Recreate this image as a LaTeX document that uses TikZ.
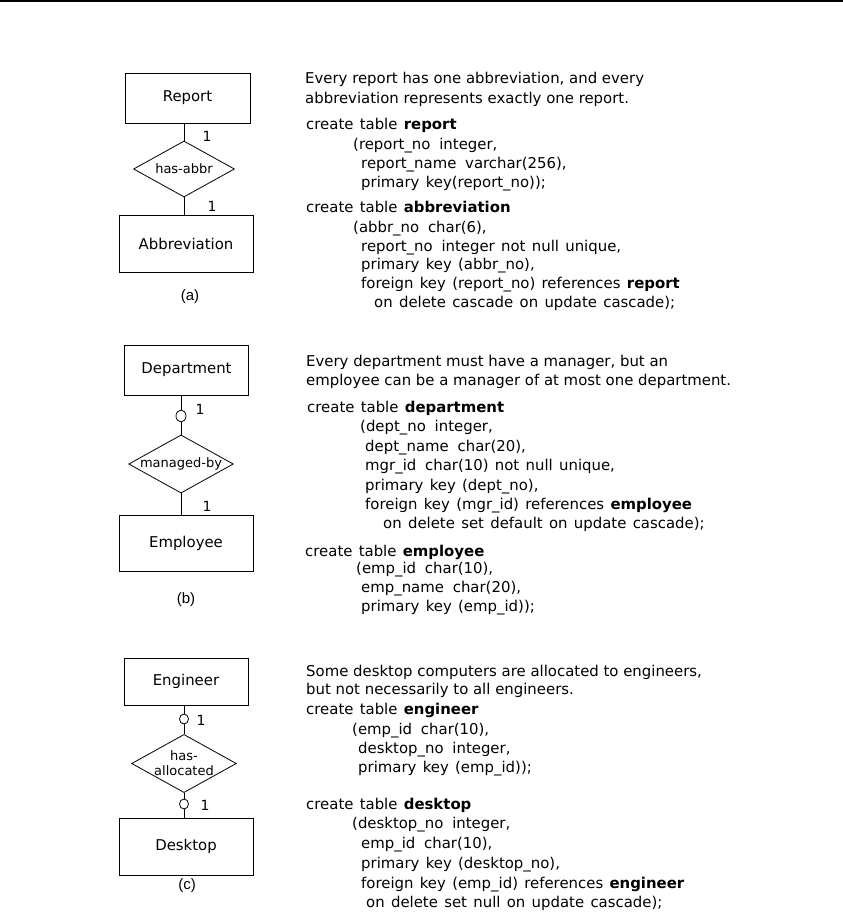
\documentclass[tikz,border=0pt]{standalone}
\usepackage{fontspec}
\setmainfont{DejaVu Sans}
\newfontfamily\labfont{Liberation Sans}
\usetikzlibrary{shapes.geometric}
\newcommand\txtfont{\fontsize{14.9}{18}\selectfont}
\newcommand\relfont{\fontsize{13}{14}\selectfont}
\newcommand\cardfont{\fontsize{14}{16}\selectfont}
\newcommand\dsp{\kern2.5pt\ }
\newcommand\sqlline[4]{\node[ln] (#1) at (#2,#3) {\spaceskip=6.3pt\relax #4};}
\newcommand\descline[4]{\node[ln] (#1) at (#2,#3) {#4};}
\tikzset{
  ent/.style={draw, line width=1pt, rectangle, inner sep=0, font=\txtfont},
  rel/.style={draw, diamond, aspect=1.8, inner sep=0, line width=0.8pt, font=\relfont, align=center},
  opt/.style={draw, ellipse, inner sep=0, minimum width=10pt, minimum height=12pt, line width=0.8pt},
  card/.style={font=\cardfont, inner sep=0},
  figlabel/.style={font=\labfont\fontsize{15}{17}\selectfont, inner sep=0},
  ln/.style={anchor=base west, inner sep=0, font=\txtfont},
  conn/.style={line width=1pt}
}
\begin{document}
\begin{tikzpicture}[x=1pt,y=-1pt]
\useasboundingbox (0,0) rectangle (843,919);
\draw[line width=1.5pt] (0,0.75) -- (843,0.75);

% ---------- (a) ----------
\node[ent, minimum width=125pt, minimum height=50pt] (rep) at (187.5,98) {Report};
\node[rel, minimum width=101pt, minimum height=56pt] (d1) at (184,169) {has-abbr};
\node[ent, minimum width=134pt, minimum height=57pt] (abbr) at (186,243.5) {Abbreviation};
\draw[conn] (d1.north) -- (d1.north |- rep.south);
\draw[conn] (d1.south) -- (d1.south |- abbr.north);
\node[card] (ca1) at (207,136) {1};
\node[card] (ca2) at (212,206) {1};
\node[figlabel] (la) at (190,297) {(a)};

\descline{a1}{305}{83}{Every report has one abbreviation, and every}
\descline{a2}{305}{103}{abbreviation represents exactly one report.}
\sqlline{a3}{306}{129}{create table \textbf{report}}
\sqlline{a4}{353}{149}{(report\_no\dsp integer,}
\sqlline{a5}{361}{168}{report\_name\dsp varchar(256),}
\sqlline{a6}{361}{187}{primary key(report\_no));}
\sqlline{a7}{306}{212}{create table \textbf{abbreviation}}
\sqlline{a8}{353}{232}{(abbr\_no\dsp char(6),}
\sqlline{a9}{361}{251}{report\_no\dsp integer not null unique,}
\sqlline{a10}{361}{269}{primary key (abbr\_no),}
\sqlline{a11}{361}{288}{foreign key (report\_no) references \textbf{report}}
\sqlline{a12}{374}{307}{on delete cascade on update cascade);}

% ---------- (b) ----------
\node[ent, minimum width=124pt, minimum height=50pt] (dep) at (186.5,370) {Department};
\node[opt] (o1) at (181,416) {};
\node[rel, minimum width=101pt, minimum height=57pt] (d2) at (181,464) {managed-by};
\node[ent, minimum width=134pt, minimum height=56pt] (emp) at (186,543) {Employee};
\draw[conn] (o1.north) -- (o1.north |- dep.south);
\draw[conn] (o1.south) -- (d2.north);
\draw[conn] (d2.south) -- (d2.south |- emp.north);
\node[card] (cb1) at (200,409) {1};
\node[card] (cb2) at (207,506) {1};
\node[figlabel] (lb) at (186,600) {(b)};

\descline{b1}{306}{366}{Every department must have a manager, but an}
\descline{b2}{306}{385}{employee can be a manager of at most one department.}
\sqlline{b3}{307}{412}{create table \textbf{department}}
\sqlline{b4}{360}{431}{(dept\_no\dsp integer,}
\sqlline{b5}{365}{451}{dept\_name\dsp char(20),}
\sqlline{b6}{365}{470}{mgr\_id\dsp char(10) not null unique,}
\sqlline{b7}{365}{490}{primary key (dept\_no),}
\sqlline{b8}{365}{509}{foreign key (mgr\_id) references \textbf{employee}}
\sqlline{b9}{383}{528}{on delete set default on update cascade);}
\sqlline{b10}{305}{556}{create table \textbf{employee}}
\sqlline{b11}{356}{573}{(emp\_id\dsp char(10),}
\sqlline{b12}{361}{592}{emp\_name\dsp char(20),}
\sqlline{b13}{361}{611}{primary key (emp\_id));}

% ---------- (c) ----------
\node[ent, minimum width=124pt, minimum height=47pt] (eng) at (186,681.5) {Engineer};
\node[opt, minimum width=9pt, minimum height=10pt] (o2) at (184,719) {};
\node[rel, minimum width=100pt, minimum height=57pt] (d3) at (184,763.5) {has-\\[1pt]allocated};
\node[opt, minimum width=9pt, minimum height=10pt] (o3) at (184,804) {};
\node[ent, minimum width=134pt, minimum height=57pt] (desk) at (186,846.5) {Desktop};
\draw[conn] (o2.north) -- (o2.north |- eng.south);
\draw[conn] (o2.south) -- (d3.north);
\draw[conn] (d3.south) -- (o3.north);
\draw[conn] (o3.south) -- (o3.south |- desk.north);
\node[card] (cc1) at (201,720) {1};
\node[card] (cc2) at (205,805) {1};
\node[figlabel] (lc) at (187,886) {(c)};

\descline{c1}{306}{676}{Some desktop computers are allocated to engineers,}
\descline{c2}{306}{694}{but not necessarily to all engineers.}
\sqlline{c3}{306}{714}{create table \textbf{engineer}}
\sqlline{c4}{352}{734}{(emp\_id\dsp char(10),}
\sqlline{c5}{358}{753}{desktop\_no\dsp integer,}
\sqlline{c6}{358}{772}{primary key (emp\_id));}
\sqlline{c7}{306}{809}{create table \textbf{desktop}}
\sqlline{c8}{352}{828}{(desktop\_no\dsp integer,}
\sqlline{c9}{361}{848}{emp\_id\dsp char(10),}
\sqlline{c10}{361}{868}{primary key (desktop\_no),}
\sqlline{c11}{361}{888}{foreign key (emp\_id) references \textbf{engineer}}
\sqlline{c12}{366}{907}{on delete set null on update cascade);}
\end{tikzpicture}
\end{document}
